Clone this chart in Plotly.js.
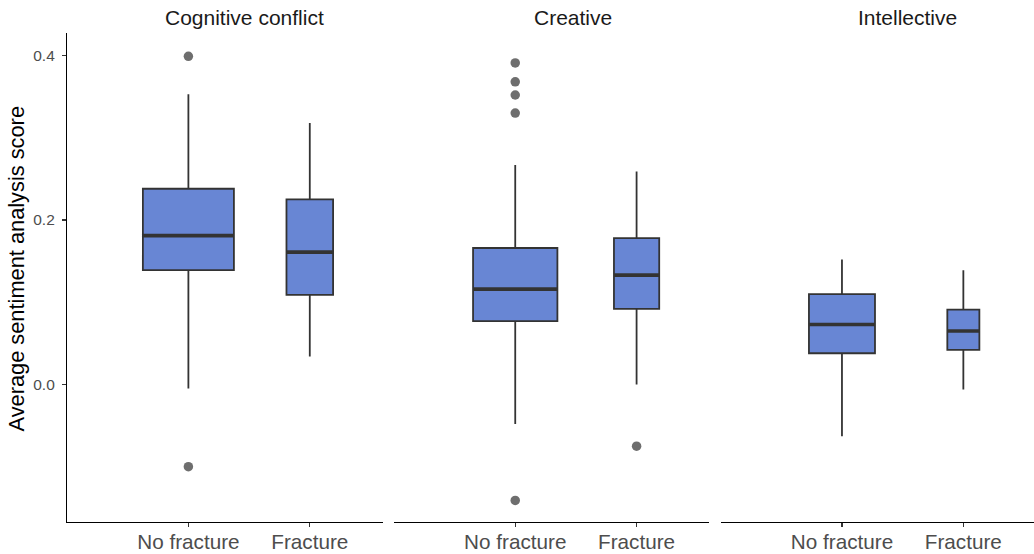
<!DOCTYPE html>
<html>
<head>
<meta charset="utf-8">
<script src="https://cdn.plot.ly/plotly-3.0.1.min.js"></script>
<style>
  html, body { margin: 0; padding: 0; overflow: hidden; background: #fff; }
  #chart { width: 1039px; height: 554px; }
</style>
</head>
<body>
<div id="chart"></div>
<script>
// ---------------- DATA ----------------
const facets = ["Cognitive conflict", "Creative", "Intellective"];
const groups = ["No fracture", "Fracture"];
const groupPositions = [1, 2];

// box statistics per facet: [No fracture, Fracture]
const lowerWhisker = [[-0.005, 0.034], [-0.048, 0.000], [-0.063, -0.006]];
const q1Values     = [[0.139, 0.109], [0.077, 0.092], [0.038, 0.042]];
const medianValues = [[0.181, 0.161], [0.116, 0.133], [0.073, 0.065]];
const q3Values     = [[0.238, 0.225], [0.166, 0.178], [0.110, 0.091]];
const upperWhisker = [[0.353, 0.318], [0.267, 0.259], [0.152, 0.139]];
const outliers     = [
  [[0.399, -0.100], []],
  [[0.391, 0.368, 0.352, 0.330, -0.141], [-0.075]],
  [[], []]
];

const yTickValues = [0.0, 0.2, 0.4];
const yTickLabels = ["0.0", "0.2", "0.4"];
const yTitle = "Average sentiment analysis score";

// ---------------- STYLE ----------------
// relative box widths (varwidth), in category units
const varWidths = [[0.75, 0.384], [0.695, 0.373], [0.544, 0.264]];
const stripShifts = [-5, -3, 5];
const FONT = "Liberation Sans, Arial, Helvetica, sans-serif";
const boxFill = "#6886D4";
const boxLine = "#333333";
const outlierColor = "#6e6e6e";
const domains = [[0, 0.3247], [0.3363, 0.6609], [0.6724, 0.9971]];

const traces = [];
const medianTraces = [];
const pointTraces = [];

facets.forEach((facet, f) => {
  const xa = f === 0 ? "x" : "x" + (f + 1);
  groups.forEach((g, k) => {
    const pos = groupPositions[k];
    const w = varWidths[f][k];
    traces.push({
      type: "box",
      xaxis: xa, yaxis: "y",
      x: [pos],
      q1: [q1Values[f][k]],
      median: [medianValues[f][k]],
      q3: [q3Values[f][k]],
      lowerfence: [lowerWhisker[f][k]],
      upperfence: [upperWhisker[f][k]],
      width: w,
      whiskerwidth: 0,
      boxpoints: false,
      fillcolor: boxFill,
      line: { color: boxLine, width: 1.8 },
      name: facet + " - " + g,
      showlegend: false,
      hoverinfo: "y"
    });
    medianTraces.push({
      type: "scatter", mode: "lines",
      xaxis: xa, yaxis: "y",
      x: [pos - w / 2, pos + w / 2],
      y: [medianValues[f][k], medianValues[f][k]],
      line: { color: boxLine, width: 3.6 },
      showlegend: false, hoverinfo: "skip"
    });
    if (outliers[f][k].length) {
      pointTraces.push({
        type: "scatter", mode: "markers",
        xaxis: xa, yaxis: "y",
        x: outliers[f][k].map(() => pos),
        y: outliers[f][k],
        marker: { color: outlierColor, size: 9.5 },
        showlegend: false, hoverinfo: "y"
      });
    }
  });
});

const xAxisBase = {
  range: [0, 2.6],
  tickvals: groupPositions,
  ticktext: groups,
  showgrid: false, zeroline: false,
  showline: true, linecolor: "#000000", linewidth: 1.1,
  ticks: "outside", ticklen: 4, tickwidth: 1.1, tickcolor: "#333333",
  ticklabelstandoff: -3,
  tickfont: { family: FONT, size: 20.7, color: "#4D4D4D" },
  fixedrange: true,
  anchor: "y"
};

const layout = {
  width: 1039, height: 554,
  margin: { l: 67, r: 0, t: 33, b: 32 },
  paper_bgcolor: "#ffffff", plot_bgcolor: "#ffffff",
  font: { family: FONT },
  showlegend: false,
  boxmode: "overlay",
  xaxis: Object.assign({}, xAxisBase, { domain: domains[0] }),
  xaxis2: Object.assign({}, xAxisBase, { domain: domains[1] }),
  xaxis3: Object.assign({}, xAxisBase, { domain: domains[2] }),
  yaxis: {
    range: [-0.1672, 0.4274],
    tickvals: yTickValues, ticktext: yTickLabels,
    showgrid: false, zeroline: false,
    showline: true, linecolor: "#000000", linewidth: 1.1,
    ticks: "outside", ticklen: 4, tickwidth: 1.1, tickcolor: "#333333",
    ticklabelstandoff: 4,
    tickfont: { family: FONT, size: 15.5, color: "#4D4D4D" },
    anchor: "x", fixedrange: true
  },
  annotations: facets.map((facet, f) => ({
    text: facet,
    xref: f === 0 ? "x" : "x" + (f + 1),
    x: 1.5, xshift: stripShifts[f],
    yref: "paper", y: 1, yanchor: "middle", xanchor: "center",
    yshift: 15.5,
    showarrow: false,
    font: { family: FONT, size: 21, color: "#1a1a1a" }
  })).concat([{
    text: yTitle,
    xref: "paper", x: 0, xshift: -51, xanchor: "center",
    yref: "paper", y: 0.5, yshift: 9, yanchor: "middle",
    textangle: -90, showarrow: false,
    font: { family: FONT, size: 21.8, color: "#000000" }
  }])
};

Plotly.newPlot("chart", traces.concat(medianTraces, pointTraces), layout,
  { displayModeBar: false, staticPlot: true });
</script>
</body>
</html>
